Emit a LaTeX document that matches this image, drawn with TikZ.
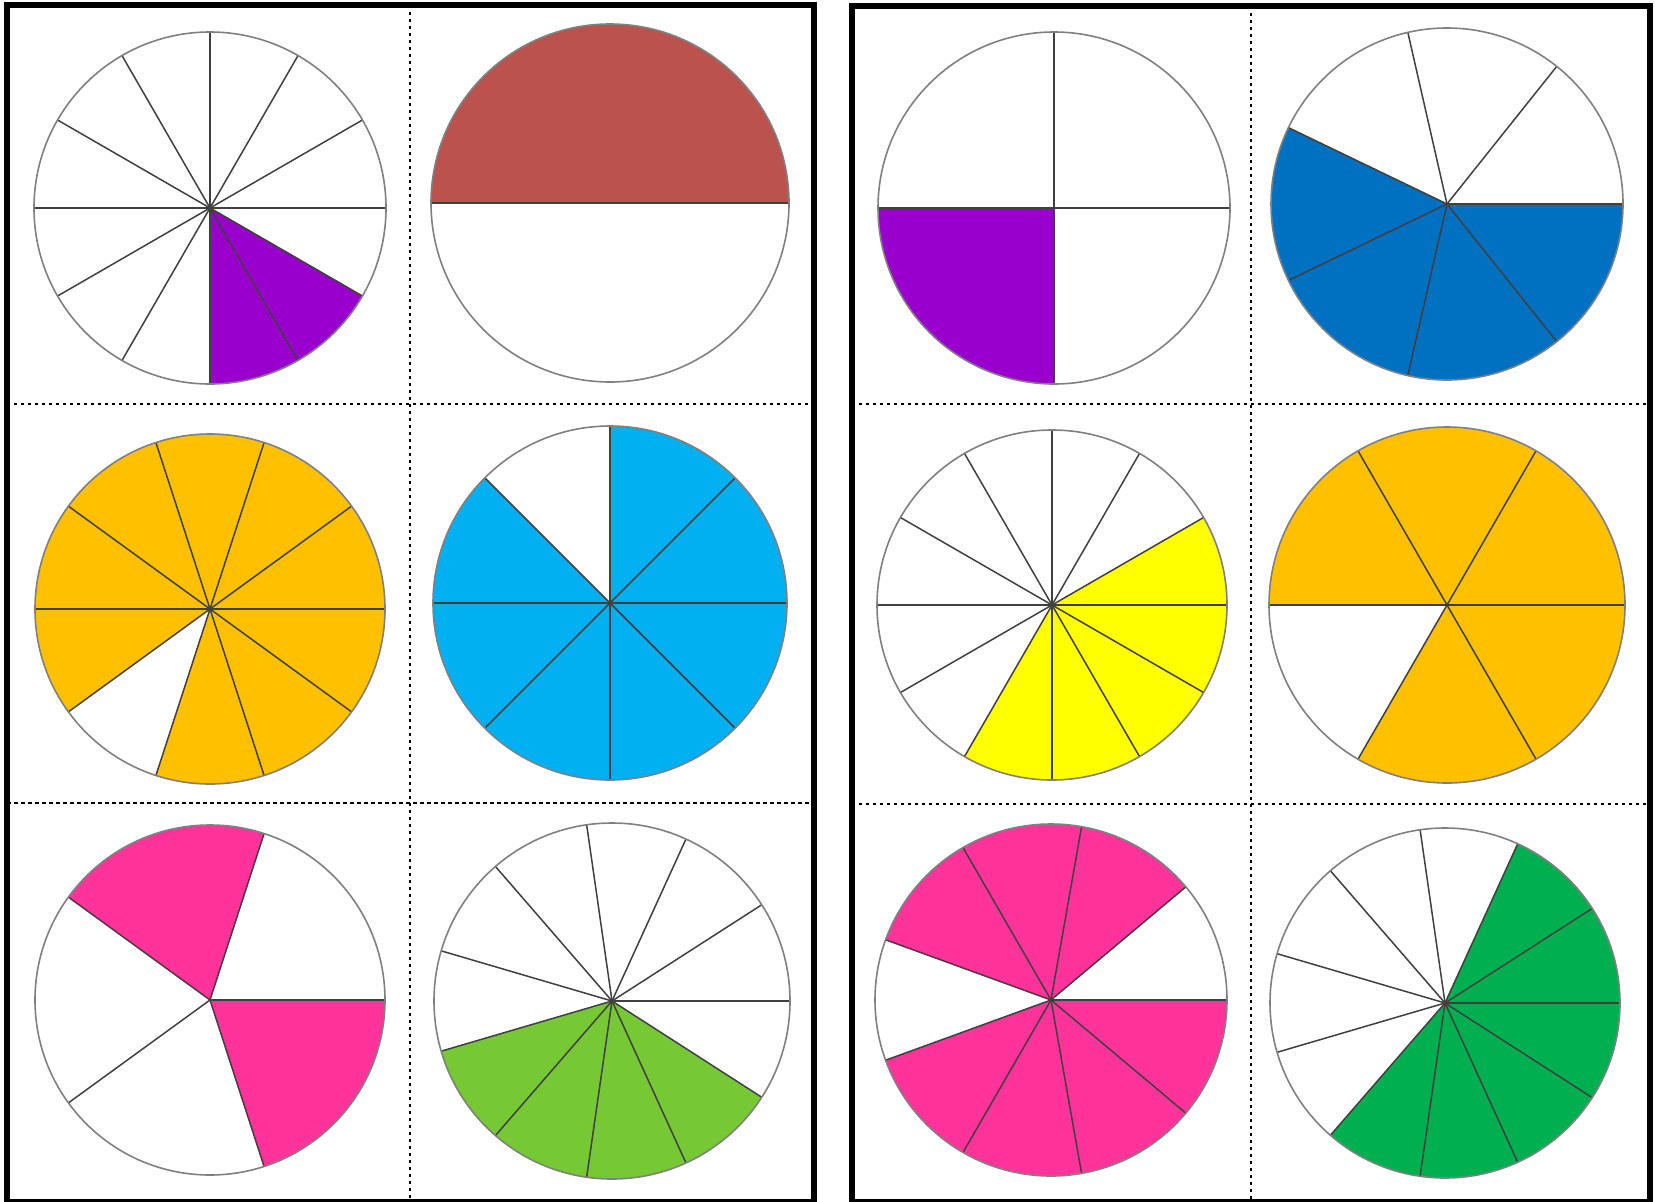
\documentclass[tikz,border=0pt]{standalone}
\usepackage{xcolor}
\usepackage{tikz}
\definecolor{piepurple}{HTML}{9900CC}
\definecolor{piebrick}{HTML}{BC524D}
\definecolor{pieorange}{HTML}{FFC000}
\definecolor{piesky}{HTML}{00B0F0}
\definecolor{piepink}{HTML}{FF3399}
\definecolor{pielime}{HTML}{76C934}
\definecolor{pieblue}{HTML}{0070C0}
\definecolor{pieyellow}{HTML}{FFFF00}
\definecolor{piegreen}{HTML}{00B050}

% #1 centre, #2 radius, #3 parts, #4 colour, #5 shaded parts
\newcommand{\fracpie}[5]{%
  \foreach \k in {#5}{%
    \fill[#4] (#1) -- ++({\k*360/#3}:#2)
      arc[start angle={\k*360/#3}, delta angle={360/#3}, radius=#2] -- cycle;
  }%
  \foreach \k in {1,...,#3}{%
    \draw[spoke] (#1) -- ++({\k*360/#3}:#2);
  }%
  \draw[rim] (#1) circle[radius=#2];
}

\begin{document}
\begin{tikzpicture}[
    x=1pt, y=1pt,
    panel/.style={draw=black, line width=6pt},
    rim/.style={draw=black!50, line width=1.6pt},
    spoke/.style={draw=black!75, line width=1.5pt},
    cutline/.style={line width=2.6pt, dash pattern=on 2.6pt off 4.4pt},
    thincut/.style={line width=1.6pt, dash pattern=on 4pt off 3pt}
]
\useasboundingbox (0,0) rectangle (1655,-1202);

% left card
\coordinate (twoTwelfths)   at (210,-208);
\coordinate (oneHalf)       at (610,-203);
\coordinate (nineTenths)    at (210,-609);
\coordinate (sevenEighths)  at (610,-603);
\coordinate (twoFifths)     at (210,-1000);
\coordinate (fourElevenths) at (612,-1001);

% right card
\coordinate (oneQuarter)    at (1054,-208);
\coordinate (fourSevenths)  at (1447,-204);
\coordinate (fiveTwelfths)  at (1052,-605);
\coordinate (fiveSixths)    at (1447,-605);
\coordinate (sevenNinths)   at (1051,-1000);
\coordinate (sixElevenths)  at (1445,-1003);

\fracpie{twoTwelfths}{176}{12}{piepurple}{9,10}
\fracpie{oneHalf}{179}{2}{piebrick}{0}
\fracpie{nineTenths}{175}{10}{pieorange}{0,1,2,3,4,5,7,8,9}
\fracpie{sevenEighths}{177}{8}{piesky}{0,1,3,4,5,6,7}
\fracpie{twoFifths}{175}{5}{piepink}{1,4}
\fracpie{fourElevenths}{178}{11}{pielime}{6,7,8,9}

\fracpie{oneQuarter}{176}{4}{piepurple}{2}
\fracpie{fourSevenths}{176}{7}{pieblue}{3,4,5,6}
\fracpie{fiveTwelfths}{175}{12}{pieyellow}{8,9,10,11,0}
\fracpie{fiveSixths}{178}{6}{pieorange}{0,1,2,4,5}
\fracpie{sevenNinths}{176}{9}{piepink}{1,2,3,5,6,7,8}
\fracpie{sixElevenths}{175}{11}{piegreen}{7,8,9,10,0,1}

% cutting lines
\draw[cutline] (410,-5) -- (410,-1202);
\draw[cutline] (7,-404) -- (814,-404);
\draw[thincut] (7,-803) -- (814,-803);
\draw[cutline] (1251,-6) -- (1251,-1202);
\draw[cutline] (852,-404) -- (1650,-404);
\draw[cutline] (852,-804) -- (1650,-804);

% card borders
\draw[panel] (7,-5) rectangle (814,-1202);
\draw[panel] (852,-6) rectangle (1650,-1202);
\end{tikzpicture}
\end{document}
